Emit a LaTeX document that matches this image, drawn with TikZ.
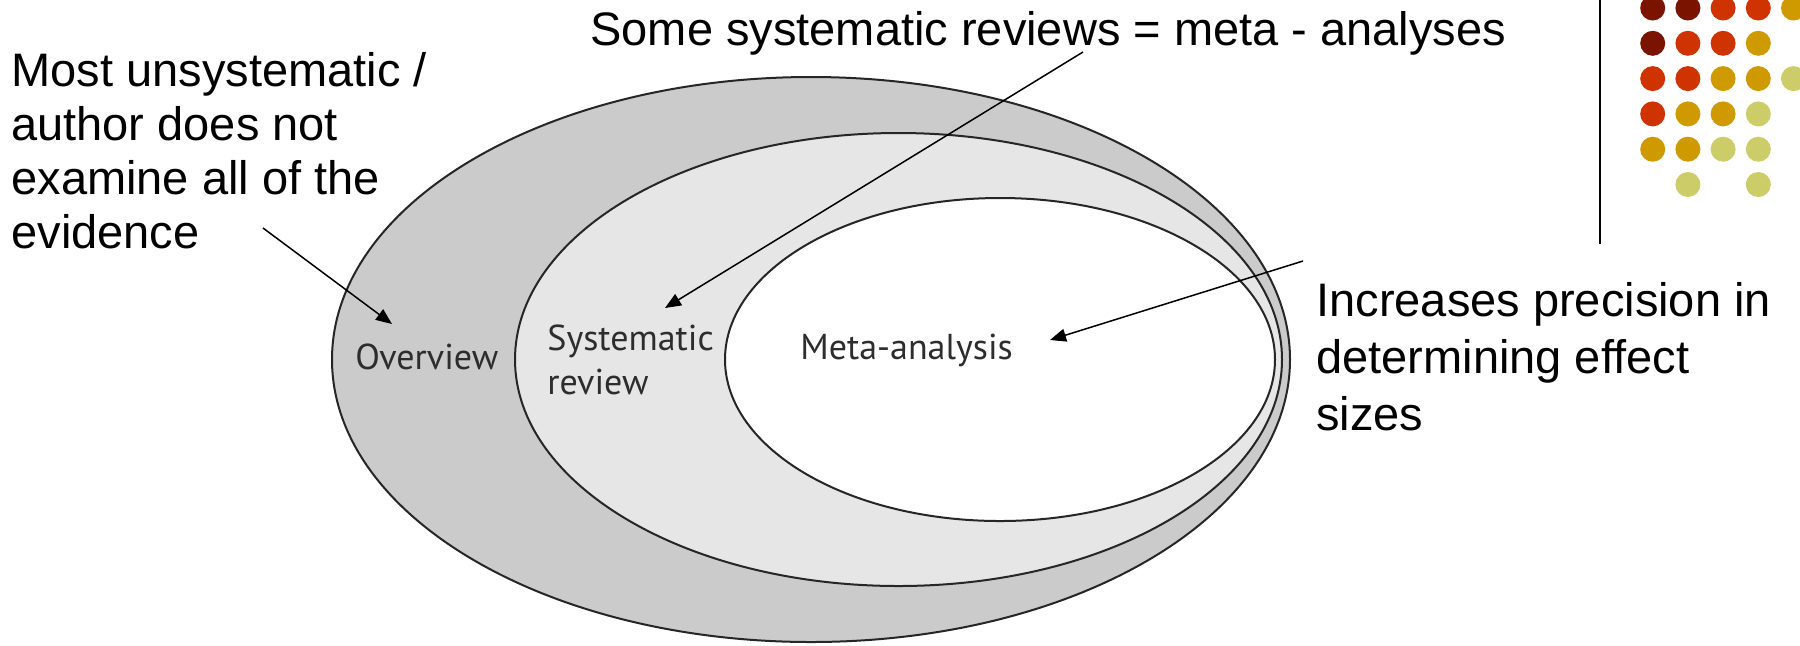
\documentclass[tikz,border=0pt]{standalone}
\usepackage{fontspec}
\setmainfont{Liberation Sans}
\newfontfamily\labelfont{PT Sans}
\usetikzlibrary{arrows.meta}

\definecolor{ovgray}{RGB}{203,203,203}
\definecolor{srgray}{RGB}{230,230,230}
\definecolor{labelgray}{RGB}{45,45,45}
\definecolor{dotmaroon}{RGB}{122,20,0}
\definecolor{dotred}{RGB}{207,51,0}
\definecolor{dotgold}{RGB}{207,154,0}
\definecolor{dotolive}{RGB}{204,204,105}

\tikzset{
  ring/.style={draw=black!85, line width=1pt},
  inlabel/.style={font=\labelfont\fontsize{18}{22}\selectfont, text=labelgray, align=left, inner sep=0pt},
  callout/.style={font=\fontsize{23.5}{27}\selectfont, align=left, inner sep=0pt},
  pointer/.style={->, line width=0.75pt},
}

\begin{document}
\begin{tikzpicture}[x=0.5pt, y=-0.5pt, >={Triangle[length=8pt, width=6.5pt]}]
        \clip (0,0) rectangle (1800,645);

        % ===== Nested ellipses =====
        \draw[ring, fill=ovgray] (811,359.5) ellipse [x radius=479, y radius=282.5];
        \draw[ring, fill=srgray] (898.5,359.5) ellipse [x radius=383.5, y radius=226.5];
        \draw[ring, fill=white] (1000,359.5) ellipse [x radius=275, y radius=161.5];

        \node[inlabel, anchor=west] (ov) at (355,357) {Overview};
        \node[inlabel, anchor=west] (sr) at (547,360) {Systematic\\review};
        \node[inlabel, anchor=west] (ma) at (800,350) {Meta-analysis};

        % ===== Callouts =====
        \node[callout, anchor=north west] (unsys) at (11,52) {Most unsystematic /\\author does not\\examine all of the\\evidence};
        \node[callout, anchor=base west] (some) at (590,45) {Some systematic reviews = meta - analyses};
        \node[callout, font=\fontsize{23.5}{28.5}\selectfont, anchor=north west] (prec) at (1316,282) {Increases precision in\\determining effect\\sizes};

        \coordinate (unsys end) at (263,228);
        \coordinate (ov tip) at (392,324);
        \coordinate (some end) at (1083,52);
        \coordinate (sr tip) at (665,308);
        \coordinate (prec end) at (1303,261);
        \coordinate (ma tip) at (1050,340);

        \draw[pointer] (unsys end) -- (ov tip);
        \draw[pointer] (some end) -- (sr tip);
        \draw[pointer] (prec end) -- (ma tip);

        % ===== Corner dots =====
        \draw[line width=1pt] (1600,0) -- (1600,244);
        \foreach \c/\r/\col in {0/0/dotmaroon, 1/0/dotmaroon, 2/0/dotred, 3/0/dotred, 4/0/dotgold,
                                0/1/dotmaroon, 1/1/dotred, 2/1/dotred, 3/1/dotgold,
                                0/2/dotred, 1/2/dotred, 2/2/dotgold, 3/2/dotgold, 4/2/dotolive,
                                0/3/dotred, 1/3/dotgold, 2/3/dotgold, 3/3/dotolive,
                                0/4/dotgold, 1/4/dotgold, 2/4/dotolive, 3/4/dotolive,
                                1/5/dotolive, 3/5/dotolive}
            \fill[\col] (1652.7+35.2*\c, 8+35.3*\r) circle [radius=12.5];
\end{tikzpicture}
\end{document}
